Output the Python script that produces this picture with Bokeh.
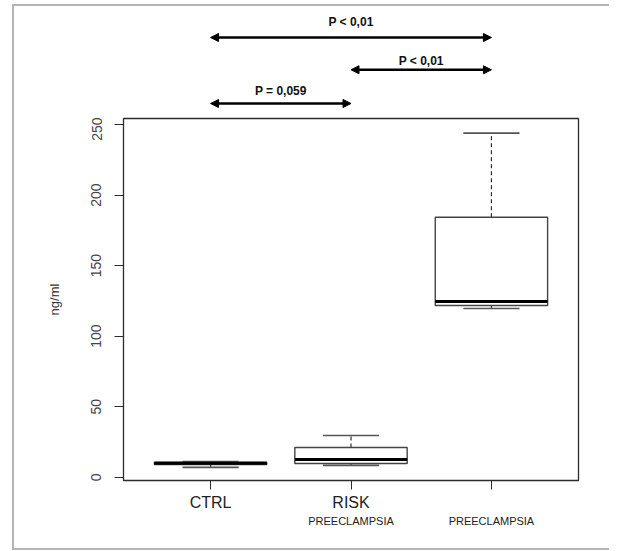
from bokeh.plotting import figure
from bokeh.layouts import column, row
from bokeh.models import (Range1d, FixedTicker, LinearAxis, Arrow, NormalHead,
                          Label, ColumnDataSource, Spacer, GlobalInlineStyleSheet)
from bokeh.embed import file_html
from bokeh.resources import INLINE

# ---- data ----
positions = [1, 2, 3]
labels_line1 = ["CTRL", "RISK", ""]
labels_line2 = ["", "PREECLAMPSIA", "PREECLAMPSIA"]
lower_whisker = [7.0, 8.4, 119.6]
q1 = [9.0, 9.8, 121.8]
median = [10.0, 12.6, 124.6]
q3 = [10.6, 21.1, 184.3]
upper_whisker = [11.2, 29.6, 243.9]

comp_from = [1, 2, 1]
comp_to = [3, 3, 2]
comp_text = ["P < 0,01", "P < 0,01", "P = 0,059"]
y_ticks = [0, 50, 100, 150, 200, 250]

FONT = "Liberation Sans"
INK = "#2b2b2b"
FRAME_GRAY = "#b4b4b4"
W = 595            # width of the framed content
RIGHT = W - 564    # space right of the plot box

x_range = Range1d(0.38, 3.62)

# ---------- top strip with the comparison arrows ----------
top = figure(width=W, height=111, output_backend="svg", toolbar_location=None,
             x_range=x_range, y_range=Range1d(0, 111),
             min_border_left=109, min_border_right=RIGHT, min_border_top=0,
             min_border_bottom=0, x_axis_location=None, y_axis_location=None)
top.grid.visible = False
top.outline_line_color = None

comp_level = [80, 47.7, 14]      # vertical levels of the arrows in the strip
text_level = [95.5, 57, 26.5]
for a, b, t, yy, ty in zip(comp_from, comp_to, comp_text, comp_level, text_level):
    top.add_layout(Arrow(x_start=a, x_end=b, y_start=yy, y_end=yy,
                         line_width=2.6, line_color="black",
                         start=NormalHead(size=8, fill_color="black", line_color="black"),
                         end=NormalHead(size=8, fill_color="black", line_color="black")))
    top.add_layout(Label(x=(a + b) / 2, y=ty, text=t, text_align="center",
                         text_baseline="middle", text_font=FONT, text_font_size="12px",
                         text_font_style="bold", text_color="#111111"))

# ---------- main box plot ----------
p = figure(width=W, height=431, output_backend="svg", toolbar_location=None,
           x_range=x_range, y_range=Range1d(-2.3, 254.3),
           min_border_left=109, min_border_right=RIGHT, min_border_top=1,
           min_border_bottom=68, x_axis_location=None, y_axis_location=None)
p.grid.visible = False
p.outline_line_color = INK
p.outline_line_width = 1.3

yaxis = LinearAxis(ticker=FixedTicker(ticks=y_ticks), axis_label="ng/ml")
yaxis.axis_line_color = None
yaxis.major_tick_line_color = INK
yaxis.major_tick_in = 0
yaxis.major_tick_out = 9
yaxis.minor_tick_line_color = None
yaxis.major_label_orientation = "vertical"
yaxis.major_label_text_font = FONT
yaxis.major_label_text_font_size = "14px"
yaxis.major_label_text_color = "#444444"
yaxis.major_label_standoff = 13
yaxis.axis_label_text_font = FONT
yaxis.axis_label_text_font_style = "normal"
yaxis.axis_label_text_font_size = "13px"
yaxis.axis_label_text_color = "#333333"
yaxis.axis_label_standoff = 27
p.add_layout(yaxis, "left")

xaxis = LinearAxis(ticker=FixedTicker(ticks=positions),
                   major_label_overrides={pos: lab for pos, lab in zip(positions, labels_line1)})
xaxis.axis_line_color = None
xaxis.major_tick_line_color = INK
xaxis.major_tick_in = 0
xaxis.major_tick_out = 9
xaxis.minor_tick_line_color = None
xaxis.major_label_text_font = FONT
xaxis.major_label_text_font_size = "16px"
xaxis.major_label_text_color = "#222222"
xaxis.major_label_standoff = 4
p.add_layout(xaxis, "below")

xaxis2 = LinearAxis(ticker=FixedTicker(ticks=positions),
                    major_label_overrides={pos: lab for pos, lab in zip(positions, labels_line2)})
xaxis2.axis_line_color = None
xaxis2.major_tick_line_color = None
xaxis2.minor_tick_line_color = None
xaxis2.major_tick_in = 0
xaxis2.major_tick_out = 0
xaxis2.major_label_text_font = FONT
xaxis2.major_label_text_font_size = "11px"
xaxis2.major_label_text_color = "#222222"
xaxis2.major_label_standoff = 1
p.add_layout(xaxis2, "below")

src = ColumnDataSource(dict(x=positions, lw=lower_whisker, q1=q1, med=median,
                            q3=q3, uw=upper_whisker,
                            cl=[x - 0.2 for x in positions], cr=[x + 0.2 for x in positions],
                            bl=[x - 0.4 for x in positions], br=[x + 0.4 for x in positions]))

p.segment(x0="x", y0="q3", x1="x", y1="uw", source=src, line_color=INK,
          line_width=1.2, line_dash="4 3")
p.segment(x0="x", y0="lw", x1="x", y1="q1", source=src, line_color=INK,
          line_width=1.2, line_dash="4 3")
p.segment(x0="cl", y0="uw", x1="cr", y1="uw", source=src, line_color="#555555", line_width=1.6)
p.segment(x0="cl", y0="lw", x1="cr", y1="lw", source=src, line_color="#555555", line_width=1.6)
p.vbar(x="x", width=0.8, bottom="q1", top="q3", source=src, fill_color="white",
       line_color="#444444", line_width=1.4)
p.segment(x0="bl", y0="med", x1="br", y1="med", source=src, line_color="black", line_width=3)

# ---------- light gray page frame (left, top, bottom) ----------
def gray_bar(w, h):
    return Spacer(width=w, height=h, margin=0, styles={"background-color": FRAME_GRAY})

inner = column(gray_bar(W, 2), top, p, gray_bar(W, 2), spacing=0, margin=0)
framed = row(Spacer(width=12, height=546, margin=0), gray_bar(2, 546), inner,
             spacing=0, margin=0)
page_css = GlobalInlineStyleSheet(css="html, body { margin: 0; padding: 0; overflow: hidden; }")
layout = column(Spacer(width=14 + W, height=4, margin=0), framed, spacing=0, margin=0,
                stylesheets=[page_css])

open("out.html", "w").write(file_html(layout, INLINE))
